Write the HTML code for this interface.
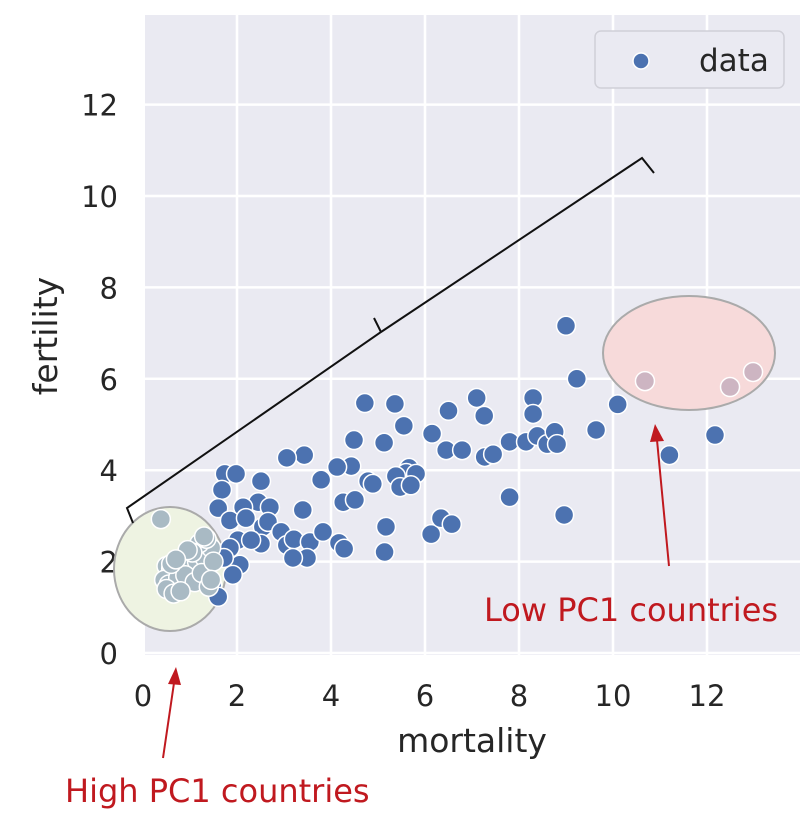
<!DOCTYPE html>
<html><head><meta charset="utf-8"><style>
body{margin:0;background:#fff;width:800px;height:814px;overflow:hidden;font-family:"Liberation Sans","DejaVu Sans",sans-serif}
svg text{font-family:"DejaVu Sans","Liberation Sans",sans-serif}
</style></head><body>
<svg id="chart" width="800" height="814" viewBox="0 0 800 814" xmlns="http://www.w3.org/2000/svg">
<rect x="145" y="15" width="655" height="640" fill="#eaeaf2"/>
<g id="grid"></g>
<g id="ticks"></g>
<ellipse cx="170" cy="569" rx="56" ry="62" fill="#eef3e2" stroke="#aaa" stroke-width="2"/>
<ellipse cx="689" cy="353" rx="86" ry="57" fill="#f7dada" stroke="#aaa" stroke-width="2"/>
<g id="points"></g>
<path d="M133,523 L127,508 L381,332 L374,318 M381,332 L642,158 L654,173" fill="none" stroke="#111" stroke-width="2"/>
<g>
<rect x="595" y="31" width="189" height="57" rx="6" fill="#eaeaf2" stroke="#d0d0d8" stroke-width="1.5"/>
<circle cx="641" cy="61" r="8" fill="#4c72b0" stroke="#fff" stroke-width="1.5"/>
<text x="699" y="71" font-size="31" fill="#262626">data</text>
</g>
<text x="472" y="752" font-size="33" fill="#262626" text-anchor="middle">mortality</text>
<text x="0" y="0" font-size="33" fill="#262626" text-anchor="middle" transform="translate(57,336) rotate(-90)">fertility</text>
<g>
<line x1="669" y1="566" x2="657" y2="440" stroke="#c0191f" stroke-width="2"/>
<polygon points="655,424 650,442 664,441" fill="#c0191f"/>
<text x="484" y="621" font-size="32" fill="#c0191f" font-family="Liberation Sans">Low PC1 countries</text>
</g>
<g>
<line x1="163" y1="758" x2="174" y2="683" stroke="#c0191f" stroke-width="2"/>
<polygon points="176,667 168,684 181,685" fill="#c0191f"/>
<text x="65" y="802" font-size="32" fill="#c0191f" font-family="Liberation Sans">High PC1 countries</text>
</g>
</svg>
<script>
const xTicks=[0,2,4,6,8,10,12];
const yTicks=[0,2,4,6,8,10,12];
const mortality=[9.0,9.23,10.1,9.64,11.2,12.17,8.96,7.8,4.72,5.36,6.5,7.1,7.26,8.3,8.3,5.55,4.49,5.13,6.15,6.45,6.79,7.27,7.45,7.8,8.15,8.39,8.6,8.76,8.81,5.66,5.6,5.81,5.38,5.47,5.7,4.79,4.89,4.43,4.13,3.79,4.26,4.51,3.43,3.06,2.51,1.74,1.98,1.68,2.45,1.6,3.4,2.13,2.7,1.85,2.19,2.55,2.66,2.94,3.06,3.21,3.55,3.83,4.17,4.28,3.49,3.19,5.17,5.14,6.13,6.34,6.57,2.06,1.91,1.47,1.6,2.51,2.02,1.85,2.3,1.72];
const fertility=[7.16,6.0,5.44,4.88,4.33,4.77,3.02,3.41,5.47,5.45,5.3,5.58,5.19,5.58,5.23,4.97,4.66,4.6,4.8,4.44,4.44,4.29,4.35,4.62,4.62,4.75,4.57,4.84,4.57,4.05,3.94,3.92,3.87,3.63,3.67,3.76,3.7,4.09,4.07,3.79,3.3,3.35,4.33,4.27,3.76,3.92,3.92,3.57,3.3,3.17,3.13,3.19,3.19,2.9,2.95,2.76,2.87,2.65,2.36,2.49,2.43,2.65,2.41,2.28,2.08,2.08,2.76,2.21,2.6,2.95,2.82,1.93,1.71,1.49,1.23,2.39,2.47,2.3,2.47,2.08];
const highMortality=[0.38,0.5,0.6,0.7,0.85,1.0,1.15,1.3,1.45,0.45,0.55,0.75,0.9,1.1,1.25,1.4,0.5,0.65,0.8,1.2,1.35,1.05,1.5,0.6,0.95,1.3,1.45,0.7];
const highFertility=[2.93,1.9,1.85,1.8,1.9,1.85,2.0,2.1,2.3,1.6,1.5,1.65,1.7,1.55,1.75,1.45,1.4,1.3,1.35,2.4,2.5,2.2,2.0,1.95,2.25,2.55,1.6,2.05];
const lowMortality=[10.68,12.49,12.98];
const lowFertility=[5.95,5.82,6.15];
const NS='http://www.w3.org/2000/svg';
const L=145,R=800,T=15,B=655;
const X=v=>143+v*47;
const Y=v=>653-v*45.7;
const grid=document.getElementById('grid'),ticks=document.getElementById('ticks'),pts=document.getElementById('points');
function mk(t,a,p){const e=document.createElementNS(NS,t);for(const k in a)e.setAttribute(k,a[k]);p.appendChild(e);return e;}
xTicks.forEach(v=>{
 const g=mk('line',{x1:X(v),x2:X(v),y1:T,y2:B,stroke:'#fff','stroke-width':2.5},grid);
 
 
 const t=mk('text',{x:X(v),y:706,'font-size':29,fill:'#262626','text-anchor':'middle'},ticks);t.textContent=v;
 
 
});
yTicks.forEach(v=>{
 const g=mk('line',{x1:L,x2:R,y1:Y(v),y2:Y(v),stroke:'#fff','stroke-width':2.5},grid);
 
 
 const t=mk('text',{x:118,y:Y(v)+11,'font-size':29,fill:'#262626','text-anchor':'end'},ticks);t.textContent=v;
 
 
});
function dots(xs,ys,fill,name){xs.forEach((x,i)=>{
 const c=mk('circle',{cx:X(x),cy:Y(ys[i]),r:9.5,fill:fill,stroke:'#fff','stroke-width':1.5},pts);
 
 
});}
dots(mortality,fertility,'#4c72b0','data-point');
dots(highMortality,highFertility,'#a9bac4','high-pc1-point');
dots(lowMortality,lowFertility,'#cdb5c2','low-pc1-point');
</script>
</body></html>
